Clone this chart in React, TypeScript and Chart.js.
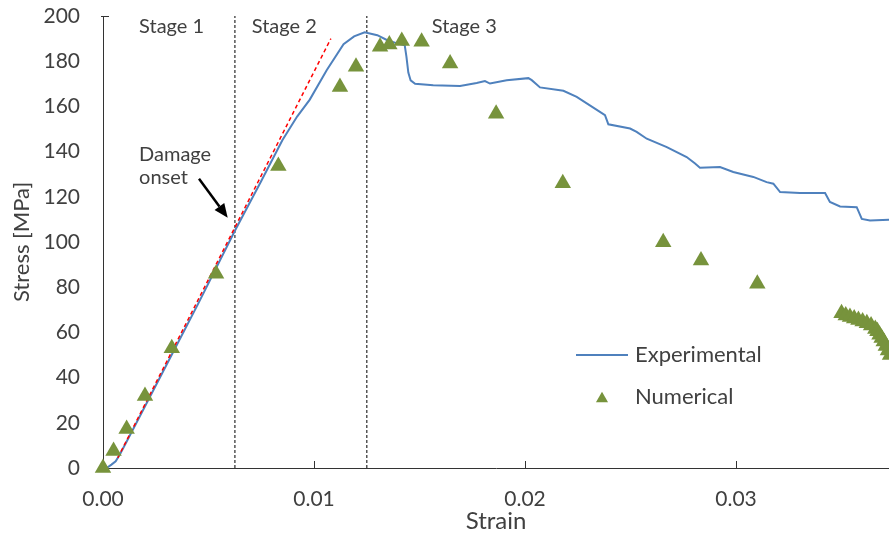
import React, { useEffect, useRef } from 'react';
import { Chart, registerables } from 'chart.js';

Chart.register(...registerables);

// ---- Data ----
const expStrain = [
  0.00017, 0.0004, 0.0006, 0.0008, 0.0015, 0.003, 0.0045, 0.00625, 0.0075, 0.0085,
  0.0092, 0.0098, 0.0106, 0.0114, 0.0119, 0.0124, 0.013, 0.01345, 0.0139, 0.0143,
  0.01438, 0.01447, 0.01458, 0.01479, 0.01565, 0.01692, 0.01771, 0.0181, 0.01834, 0.01913,
  0.02016, 0.02032, 0.02071, 0.02182, 0.02245, 0.02355, 0.02379, 0.02395, 0.02498, 0.02529,
  0.02577, 0.02672, 0.02766, 0.02806, 0.02829, 0.02924, 0.02987, 0.03082, 0.03145, 0.03177,
  0.03209, 0.03303, 0.03422, 0.03445, 0.03493, 0.03572, 0.03596, 0.03635, 0.03725, 0.0375,
];
const expStress = [
  0, 1.5, 3, 6, 18.5, 45.5, 72.5, 105, 127, 145,
  155.5, 163, 176, 187.5, 191, 192.8, 191.5, 189.4, 188, 187,
  182, 175, 171.5, 170, 169.4, 169, 170.4, 171.2, 170.1, 171.6,
  172.5, 171.6, 168.4, 166.9, 164.2, 157.6, 156.1, 152.1, 150.2, 148.7,
  145.7, 142, 137.6, 134.7, 132.9, 133.2, 131, 128.8, 126.5, 125.8,
  122.1, 121.7, 121.7, 117.7, 115.7, 115.4, 110.2, 109.5, 109.8, 110,
];

const numStrain = [
  0, 0.0005, 0.00112, 0.00199, 0.00326, 0.00536, 0.00831, 0.01123, 0.01199, 0.01313,
  0.01357, 0.01416, 0.0151, 0.01645, 0.01863, 0.02179, 0.02655, 0.02834, 0.03101,
  0.035, 0.0352, 0.0354, 0.0356, 0.0358, 0.036, 0.0362, 0.0364, 0.0366, 0.0367,
  0.0368, 0.0369, 0.037, 0.0371, 0.0372, 0.0373,
];
const numStress = [
  0, 7.5, 17.3, 31.9, 53, 86, 133.6, 168.6, 177.5, 186.4,
  187.4, 188.9, 188.6, 179, 156.8, 126, 99.9, 91.8, 81.5,
  68.5, 67.5, 66.8, 66.2, 65.5, 64.8, 64, 63, 61.5, 60.5,
  59, 57.5, 56, 54, 52, 50,
];

const fitStrain = [0.0007, 0.0108];
const fitStress = [4.5, 190];

const stageBounds = [0.00625, 0.0125];
const stageLabels = ['Stage 1', 'Stage 2', 'Stage 3'];
const stageLabelStrain = [0.00171, 0.00705, 0.01558];
const stageLabelStress = 195.5;

const damageText = ['Damage', 'onset'];
const damageTextStrain = 0.00171;
const damageTextStress = [138.8, 128.6];
const arrowFrom = [0.00455, 128];
const arrowTo = [0.00591, 110.7];

const seriesNames = ['Experimental', 'Numerical'];

const X_MAX = 0.03725;
const Y_MAX = 200;
const Y_STEP = 20;
const X_STEP = 0.01;

const FONT = 'Lato, "Open Sans", sans-serif';
const TEXT = '#404040';
const AXIS = '#333333';
const BLUE = '#4f81bd';
const GREEN = '#77933c';

const toXY = (xs: number[], ys: number[]) => xs.map((x, i) => ({ x, y: ys[i] }));

const overlayPlugin = {
  id: 'overlay',
  afterDatasetsDraw(chart: any) {
    const { ctx, chartArea: ca, scales } = chart;
    const xs = scales.x;
    const ys = scales.y;
    ctx.save();
    // inner tick marks on x axis
    ctx.strokeStyle = AXIS;
    ctx.lineWidth = 1;
    xs.ticks.forEach((t: any) => {
      if (t.value <= 0) return;
      const px = Math.round(xs.getPixelForValue(t.value)) + 0.5;
      ctx.beginPath();
      ctx.moveTo(px, ca.bottom);
      ctx.lineTo(px, ca.bottom - 7);
      ctx.stroke();
    });
    // top tick on y axis
    const ty = Math.round(ys.getPixelForValue(Y_MAX)) + 0.5;
    ctx.beginPath();
    ctx.moveTo(ca.left - 2, ty);
    ctx.lineTo(ca.left + 6, ty);
    ctx.stroke();

    // stage labels
    ctx.fillStyle = TEXT;
    ctx.font = `20px ${FONT}`;
    ctx.textAlign = 'left';
    ctx.textBaseline = 'middle';
    stageLabels.forEach((s, i) => {
      ctx.fillText(s, xs.getPixelForValue(stageLabelStrain[i]), ys.getPixelForValue(stageLabelStress));
    });
    // damage onset
    damageText.forEach((s, i) => {
      ctx.fillText(s, xs.getPixelForValue(damageTextStrain), ys.getPixelForValue(damageTextStress[i]));
    });
    // arrow
    const x1 = xs.getPixelForValue(arrowFrom[0]);
    const y1 = ys.getPixelForValue(arrowFrom[1]);
    const x2 = xs.getPixelForValue(arrowTo[0]);
    const y2 = ys.getPixelForValue(arrowTo[1]);
    const ang = Math.atan2(y2 - y1, x2 - x1);
    const hl = 14;
    const hw = 6;
    const bx = x2 - hl * Math.cos(ang);
    const by = y2 - hl * Math.sin(ang);
    ctx.strokeStyle = '#000';
    ctx.lineWidth = 2.5;
    ctx.beginPath();
    ctx.moveTo(x1, y1);
    ctx.lineTo(bx, by);
    ctx.stroke();
    ctx.fillStyle = '#000';
    ctx.beginPath();
    ctx.moveTo(x2, y2);
    ctx.lineTo(bx + hw * Math.sin(ang), by - hw * Math.cos(ang));
    ctx.lineTo(bx - hw * Math.sin(ang), by + hw * Math.cos(ang));
    ctx.closePath();
    ctx.fill();

    // legend
    const lx = ca.left + 473;
    const ly1 = ca.top + 339;
    const ly2 = ca.top + 381;
    ctx.strokeStyle = BLUE;
    ctx.lineWidth = 2;
    ctx.beginPath();
    ctx.moveTo(lx, ly1);
    ctx.lineTo(lx + 52, ly1);
    ctx.stroke();
    const tx = lx + 26;
    const r = 7;
    ctx.fillStyle = GREEN;
    ctx.beginPath();
    ctx.moveTo(tx, ly2 - r * 0.75);
    ctx.lineTo(tx + r * 0.866, ly2 + r * 0.75);
    ctx.lineTo(tx - r * 0.866, ly2 + r * 0.75);
    ctx.closePath();
    ctx.fill();
    ctx.fillStyle = TEXT;
    ctx.font = `22px ${FONT}`;
    ctx.fillText(seriesNames[0], lx + 59, ly1);
    ctx.fillText(seriesNames[1], lx + 59, ly2);
    ctx.restore();
  },
};

export default function App() {
  const ref = useRef<HTMLCanvasElement | null>(null);
  useEffect(() => {
    if (!ref.current) return;
    const chart = new Chart(ref.current, {
      type: 'scatter',
      data: {
        datasets: [
          {
            label: 'stage1',
            type: 'line',
            data: toXY([stageBounds[0], stageBounds[0]], [0, Y_MAX]),
            borderColor: '#555555',
            borderWidth: 1.5,
            borderDash: [3, 2],
            pointRadius: 0,
            order: 5,
          },
          {
            label: 'stage2',
            type: 'line',
            data: toXY([stageBounds[1], stageBounds[1]], [0, Y_MAX]),
            borderColor: '#555555',
            borderWidth: 1.5,
            borderDash: [3, 2],
            pointRadius: 0,
            order: 5,
          },
          {
            label: seriesNames[0],
            type: 'line',
            data: toXY(expStrain, expStress),
            borderColor: BLUE,
            borderWidth: 2,
            pointRadius: 0,
            tension: 0,
            order: 3,
          },
          {
            label: 'fit',
            type: 'line',
            data: toXY(fitStrain, fitStress),
            borderColor: '#ff0000',
            borderWidth: 1.5,
            borderDash: [4, 3],
            pointRadius: 0,
            order: 2,
          },
          {
            label: seriesNames[1],
            data: toXY(numStrain, numStress),
            pointStyle: 'triangle',
            pointRadius: 9.5,
            pointBackgroundColor: GREEN,
            pointBorderColor: GREEN,
            pointBorderWidth: 0,
            clip: false as any,
            order: 1,
          },
        ],
      },
      options: {
        animation: false,
        responsive: false,
        layout: { autoPadding: false, padding: { top: 16, right: 0, left: 0, bottom: 0 } },
        plugins: { legend: { display: false }, tooltip: { enabled: false } },
        scales: {
          x: {
            type: 'linear',
            min: 0,
            max: X_MAX,
            grid: { display: true, drawOnChartArea: false, drawTicks: false },
            border: { display: true, color: AXIS, width: 1 },
            ticks: {
              stepSize: X_STEP,
              includeBounds: false,
              padding: 19,
              color: TEXT,
              font: { family: FONT, size: 21 },
              maxRotation: 0,
              callback: (v: any) => Number(v).toFixed(2),
            },
            title: {
              display: true,
              text: 'Strain',
              color: TEXT,
              font: { family: FONT, size: 24 },
              padding: { top: 0, bottom: 0 },
            },
            afterFit: (s: any) => {
              s.height = 68;
              s.paddingLeft = 0;
              s.paddingRight = 0;
            },
          },
          y: {
            type: 'linear',
            min: 0,
            max: Y_MAX,
            grid: { display: true, drawOnChartArea: false, drawTicks: false },
            border: { display: true, color: AXIS, width: 1 },
            ticks: {
              stepSize: Y_STEP,
              padding: 23,
              color: TEXT,
              font: { family: FONT, size: 21 },
            },
            title: {
              display: true,
              text: 'Stress [MPa]',
              color: TEXT,
              font: { family: FONT, size: 22 },
              padding: { top: 9, bottom: 0 },
            },
            afterFit: (s: any) => {
              s.width = 103;
              s.paddingTop = 0;
              s.paddingBottom = 0;
            },
          },
        },
      },
      plugins: [overlayPlugin],
    });
    return () => chart.destroy();
  }, []);
  return (
    <div style={{ position: 'fixed', left: 0, top: 0, width: 889, height: 536, background: '#fff' }}>
      <canvas ref={ref} width={889} height={536} style={{ display: 'block' }} />
    </div>
  );
}
